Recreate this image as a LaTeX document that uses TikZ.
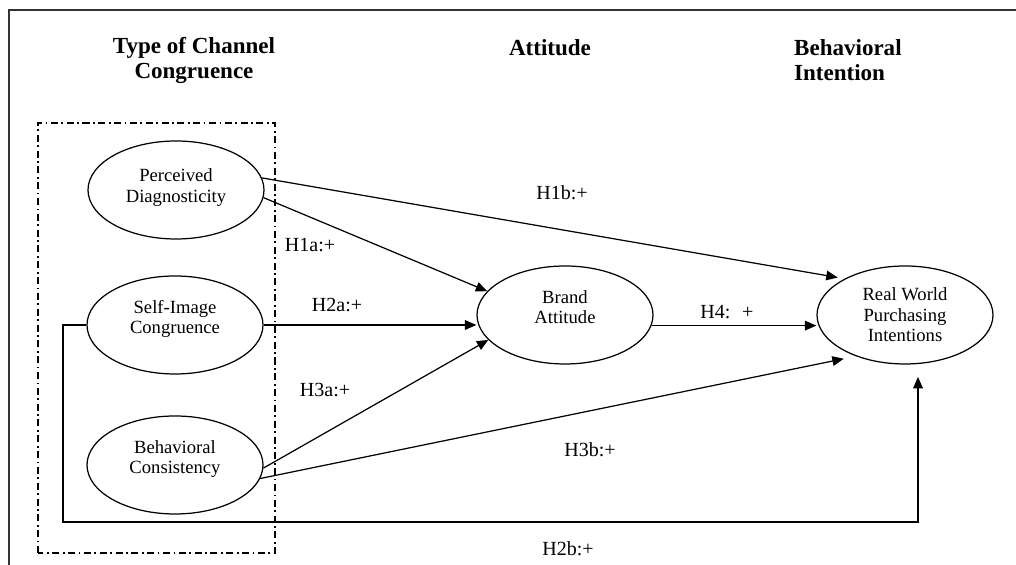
\documentclass[tikz,border=0pt]{standalone}
\usepackage{fontspec}
\setmainfont{Liberation Serif}
\usetikzlibrary{shapes.geometric,arrows.meta}

\begin{document}
\begin{tikzpicture}[
  construct/.style={ellipse, draw, line width=0.7pt, minimum width=3.52cm, minimum height=1.96cm,
    inner sep=1pt, align=center, font=\fontsize{10.6}{11.6}\selectfont},
  lifted/.style={text depth=9pt},
  hyp/.style={font=\fontsize{11.4}{12}\selectfont},
  head/.style={font=\bfseries\fontsize{13.1}{14.2}\selectfont},
  link/.style={-{Triangle[length=6.5pt,width=5.5pt]}, line width=0.7pt},
  group/.style={dash pattern=on 4pt off 2pt on 1pt off 2pt, line width=0.7pt},
  pageframe/.style={line width=1.1pt, black!80}]
\useasboundingbox (0,0) rectangle (20.32,11.30);
% frame
\draw[pageframe] (0.18,0) -- (0.18,11.10) -- (20.32,11.10);
% column headings
\node[head, align=center] (hchan) at (3.88,10.09) {Type of Channel\\Congruence};
\node[head] (hatt) at (11.0,10.34) {Attitude};
\node[head, align=left, anchor=west] (hbeh) at (15.76,10.09) {Behavioral\\Intention};
% channel congruence group
\draw[group] (0.76,0.24) rectangle (5.50,8.84);
% constructs
\node[construct, text depth=5pt] (pd) at (3.52,7.50) {Perceived\\Diagnosticity};
\node[construct, lifted] (sic) at (3.50,4.80) {Self-Image\\Congruence};
\node[construct, lifted] (bc) at (3.50,2.00) {Behavioral\\Consistency};
\node[construct, lifted] (ba) at (11.30,5.0) {Brand\\Attitude};
\node[construct] (rw) at (18.10,5.0) {Real World\\Purchasing\\Intentions};
% hypotheses
\draw[link, shorten >=4pt] (pd.8) -- (rw.149);
\draw[link] (pd.-5) -- (ba.163);
\draw[link] (sic.east) -- (sic.east -| ba.west);
\draw[link] (bc.-2) -- (ba.198);
\draw[link, shorten >=7pt] (bc.-9) -- (rw.220);
\draw[link] (ba.-7) -- (ba.-7 -| rw.west);
% H2b loop below the group
\coordinate (loopl) at (1.26,0.86);
\coordinate (loopr) at (18.36,0.86);
\draw[link, shorten >=7pt] (sic.west) -| (loopl) -- (loopr) -- (loopr |- rw.south);
% labels
\node[hyp] (h1b) at (11.24,7.44) {H1b:+};
\node[hyp] (h1a) at (6.20,6.40) {H1a:+};
\node[hyp] (h2a) at (6.74,5.20) {H2a:+};
\node[hyp] (h3a) at (6.50,3.50) {H3a:+};
\node[hyp] (h3b) at (11.80,2.30) {H3b:+};
\node[hyp] (h4) at (14.54,5.06) {H4:~ +};
\node[hyp] (h2b) at (11.36,0.32) {H2b:+};
\end{tikzpicture}
\end{document}
